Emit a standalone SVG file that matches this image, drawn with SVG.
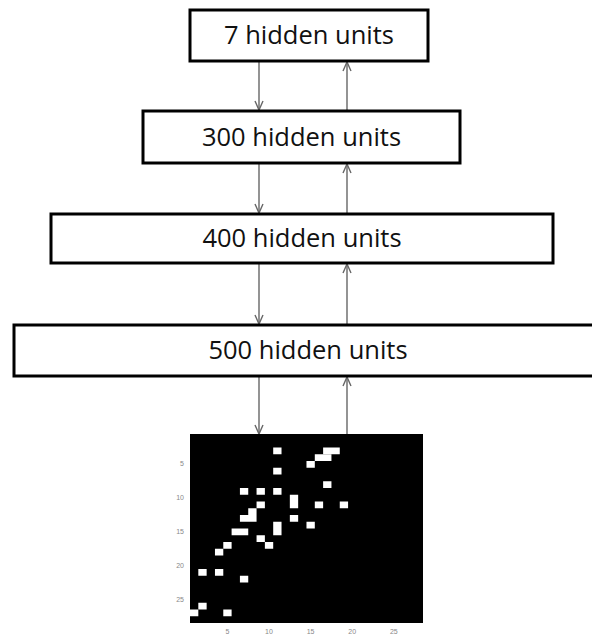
<svg xmlns="http://www.w3.org/2000/svg" width="592" height="637" viewBox="0 0 592 637">
  <style>
    .box { fill: #ffffff; stroke: #000000; stroke-width: 3; }
    .label { font-family: "Open Sans", "Liberation Sans", sans-serif; font-size: 25.5px; fill: #111111; text-anchor: middle; }
    .link { stroke: #666666; stroke-width: 1.4; fill: none; }
    .tick { font-family: "Liberation Sans", Arial, sans-serif; font-size: 7px; fill: #888888; }
    .px { fill: #ffffff; }
  </style>
  <defs>
    <marker id="arrow" viewBox="0 0 10 10" refX="10" refY="5" markerWidth="10" markerHeight="10" markerUnits="userSpaceOnUse" orient="auto">
      <path d="M1,1 L10,5 L1,9" fill="none" stroke="#666666" stroke-width="1.4"/>
    </marker>
  </defs>
  <rect width="592" height="637" fill="#ffffff"/>

  <!-- connectors: top-down (left) and bottom-up (right) -->
  <g id="connectors">
    <line class="link" x1="259" y1="62" x2="259" y2="110" marker-end="url(#arrow)"/>
    <line class="link" x1="347" y1="110" x2="347" y2="62" marker-end="url(#arrow)"/>
    <line class="link" x1="259" y1="164" x2="259" y2="213" marker-end="url(#arrow)"/>
    <line class="link" x1="347" y1="213" x2="347" y2="164" marker-end="url(#arrow)"/>
    <line class="link" x1="259" y1="264" x2="259" y2="324" marker-end="url(#arrow)"/>
    <line class="link" x1="347" y1="324" x2="347" y2="264" marker-end="url(#arrow)"/>
    <line class="link" x1="259" y1="377" x2="259" y2="434" marker-end="url(#arrow)"/>
    <line class="link" x1="347" y1="434" x2="347" y2="377" marker-end="url(#arrow)"/>
  </g>

  <g id="layer7">
    <rect class="box" x="190" y="10" width="238" height="51"/>
    <text class="label" x="309" y="44">7 hidden units</text>
  </g>
  <g id="layer300">
    <rect class="box" x="143" y="111" width="317" height="52"/>
    <text class="label" x="301.5" y="146">300 hidden units</text>
  </g>
  <g id="layer400">
    <rect class="box" x="51" y="214" width="502" height="49"/>
    <text class="label" x="302" y="247">400 hidden units</text>
  </g>
  <g id="layer500">
    <rect class="box" x="14" y="325" width="590" height="51"/>
    <text class="label" x="308" y="359">500 hidden units</text>
  </g>

  <!-- 28x28 binary input image -->
  <g id="input">
    <rect x="190" y="434" width="233" height="189" fill="#000000"/>
    <g transform="translate(190,434) scale(8.32,6.75)">
      <rect class="px" x="10" y="2" width="1" height="1"/>
      <rect class="px" x="14" y="4" width="1" height="1"/>
      <rect class="px" x="15" y="3" width="2" height="1"/>
      <rect class="px" x="16" y="2" width="2" height="1"/>
      <rect class="px" x="10" y="5" width="1" height="1"/>
      <rect class="px" x="16" y="7" width="1" height="1"/>
      <rect class="px" x="6" y="8" width="1" height="1"/>
      <rect class="px" x="8" y="8" width="1" height="1"/>
      <rect class="px" x="10" y="8" width="1" height="1"/>
      <rect class="px" x="8" y="10" width="1" height="1"/>
      <rect class="px" x="12" y="9" width="1" height="2"/>
      <rect class="px" x="15" y="10" width="1" height="1"/>
      <rect class="px" x="18" y="10" width="1" height="1"/>
      <rect class="px" x="7" y="11" width="1" height="1"/>
      <rect class="px" x="6" y="12" width="2" height="1"/>
      <rect class="px" x="12" y="12" width="1" height="1"/>
      <rect class="px" x="14" y="13" width="1" height="1"/>
      <rect class="px" x="10" y="13" width="1" height="2"/>
      <rect class="px" x="5" y="14" width="2" height="1"/>
      <rect class="px" x="8" y="15" width="1" height="1"/>
      <rect class="px" x="9" y="16" width="1" height="1"/>
      <rect class="px" x="4" y="16" width="1" height="1"/>
      <rect class="px" x="3" y="17" width="1" height="1"/>
      <rect class="px" x="1" y="20" width="1" height="1"/>
      <rect class="px" x="3" y="20" width="1" height="1"/>
      <rect class="px" x="6" y="21" width="1" height="1"/>
      <rect class="px" x="1" y="25" width="1" height="1"/>
      <rect class="px" x="0" y="26" width="1" height="1"/>
      <rect class="px" x="4" y="26" width="1" height="1"/>
    </g>
    <g class="tick" text-anchor="end">
      <text x="184" y="466">5</text>
      <text x="184" y="500">10</text>
      <text x="184" y="534">15</text>
      <text x="184" y="568">20</text>
      <text x="184" y="602">25</text>
    </g>
    <g class="tick" text-anchor="middle">
      <text x="227.4" y="634">5</text>
      <text x="269" y="634">10</text>
      <text x="310.6" y="634">15</text>
      <text x="352.2" y="634">20</text>
      <text x="393.8" y="634">25</text>
    </g>
  </g>
</svg>
